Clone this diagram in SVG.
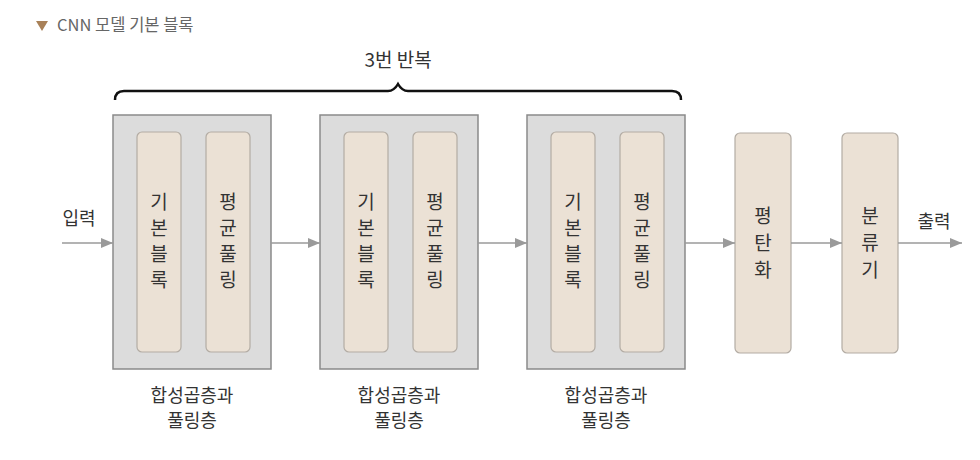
<svg xmlns="http://www.w3.org/2000/svg" width="980" height="460" viewBox="0 0 980 460">
<style>
text{font-family:"Noto Sans CJK KR","Noto Sans",sans-serif;fill:#333;}
.title{font-size:16.5px;fill:#666;}
.lbl{font-size:18px;text-anchor:middle;}
.v{font-size:19px;text-anchor:middle;}
.outer{fill:#dcdcdc;stroke:#8a8a8a;stroke-width:1.5;}
.inner{fill:#ebe1d5;stroke:#b3aca4;stroke-width:1.2;}
.conn{stroke:#9a9a9a;stroke-width:1.3;fill:none;}
</style>
<defs>
<marker id="ah" viewBox="0 0 12 10" refX="12" refY="5" markerWidth="12" markerHeight="10" markerUnits="userSpaceOnUse" orient="auto">
<path d="M0,0 L12,5 L0,10 z" fill="#9a9a9a"/>
</marker>
</defs>
<rect width="980" height="460" fill="#fff"/>
<g id="title">
<path d="M36,21 L48,21 L42,31 z" fill="#a98158"/>
<text class="title" x="57" y="31">CNN 모델 기본 블록</text>
</g>
<g id="brace">
<text class="lbl" x="398" y="67" style="font-size:19px">3번 반복</text>
<path d="M115,100 Q115,91 124,91 L388,91 Q394,91 398,84 Q402,91 408,91 L672,91 Q681,91 681,100" fill="none" stroke="#111" stroke-width="2.5"/>
</g>
<g id="block1">
<rect class="outer" x="113" y="115" width="158" height="254"/>
<rect class="inner" x="137" y="132" width="44" height="220" rx="5"/>
<rect class="inner" x="206" y="132" width="44" height="220" rx="5"/>
<text class="v"><tspan x="159" y="209">기</tspan><tspan x="159" y="235">본</tspan><tspan x="159" y="261">블</tspan><tspan x="159" y="287">록</tspan></text>
<text class="v"><tspan x="228" y="209">평</tspan><tspan x="228" y="235">균</tspan><tspan x="228" y="261">풀</tspan><tspan x="228" y="287">링</tspan></text>
<text class="lbl" x="192" y="402">합성곱층과</text>
<text class="lbl" x="192" y="427">풀링층</text>
</g>
<g id="block2">
<rect class="outer" x="320" y="115" width="158" height="254"/>
<rect class="inner" x="344" y="132" width="44" height="220" rx="5"/>
<rect class="inner" x="413" y="132" width="44" height="220" rx="5"/>
<text class="v"><tspan x="366" y="209">기</tspan><tspan x="366" y="235">본</tspan><tspan x="366" y="261">블</tspan><tspan x="366" y="287">록</tspan></text>
<text class="v"><tspan x="435" y="209">평</tspan><tspan x="435" y="235">균</tspan><tspan x="435" y="261">풀</tspan><tspan x="435" y="287">링</tspan></text>
<text class="lbl" x="399" y="402">합성곱층과</text>
<text class="lbl" x="399" y="427">풀링층</text>
</g>
<g id="block3">
<rect class="outer" x="527" y="115" width="158" height="254"/>
<rect class="inner" x="551" y="132" width="44" height="220" rx="5"/>
<rect class="inner" x="620" y="132" width="44" height="220" rx="5"/>
<text class="v"><tspan x="573" y="209">기</tspan><tspan x="573" y="235">본</tspan><tspan x="573" y="261">블</tspan><tspan x="573" y="287">록</tspan></text>
<text class="v"><tspan x="642" y="209">평</tspan><tspan x="642" y="235">균</tspan><tspan x="642" y="261">풀</tspan><tspan x="642" y="287">링</tspan></text>
<text class="lbl" x="606" y="402">합성곱층과</text>
<text class="lbl" x="606" y="427">풀링층</text>
</g>
<g id="flatten">
<rect class="inner" x="735" y="133" width="56" height="220" rx="5"/>
<text class="v"><tspan x="763" y="223">평</tspan><tspan x="763" y="250">탄</tspan><tspan x="763" y="277">화</tspan></text>
</g>
<g id="classifier">
<rect class="inner" x="842" y="133" width="56" height="220" rx="5"/>
<text class="v"><tspan x="870" y="223">분</tspan><tspan x="870" y="250">류</tspan><tspan x="870" y="277">기</tspan></text>
</g>
<g id="connectors">
<line class="conn" x1="62" y1="243" x2="113" y2="243" marker-end="url(#ah)"/>
<line class="conn" x1="271" y1="243" x2="320" y2="243" marker-end="url(#ah)"/>
<line class="conn" x1="478" y1="243" x2="527" y2="243" marker-end="url(#ah)"/>
<line class="conn" x1="685" y1="243" x2="735" y2="243" marker-end="url(#ah)"/>
<line class="conn" x1="791" y1="243" x2="842" y2="243" marker-end="url(#ah)"/>
<line class="conn" x1="898" y1="243" x2="962" y2="243" marker-end="url(#ah)"/>
<text class="lbl" x="79" y="225">입력</text>
<text class="lbl" x="934" y="228">출력</text>
</g>
</svg>
